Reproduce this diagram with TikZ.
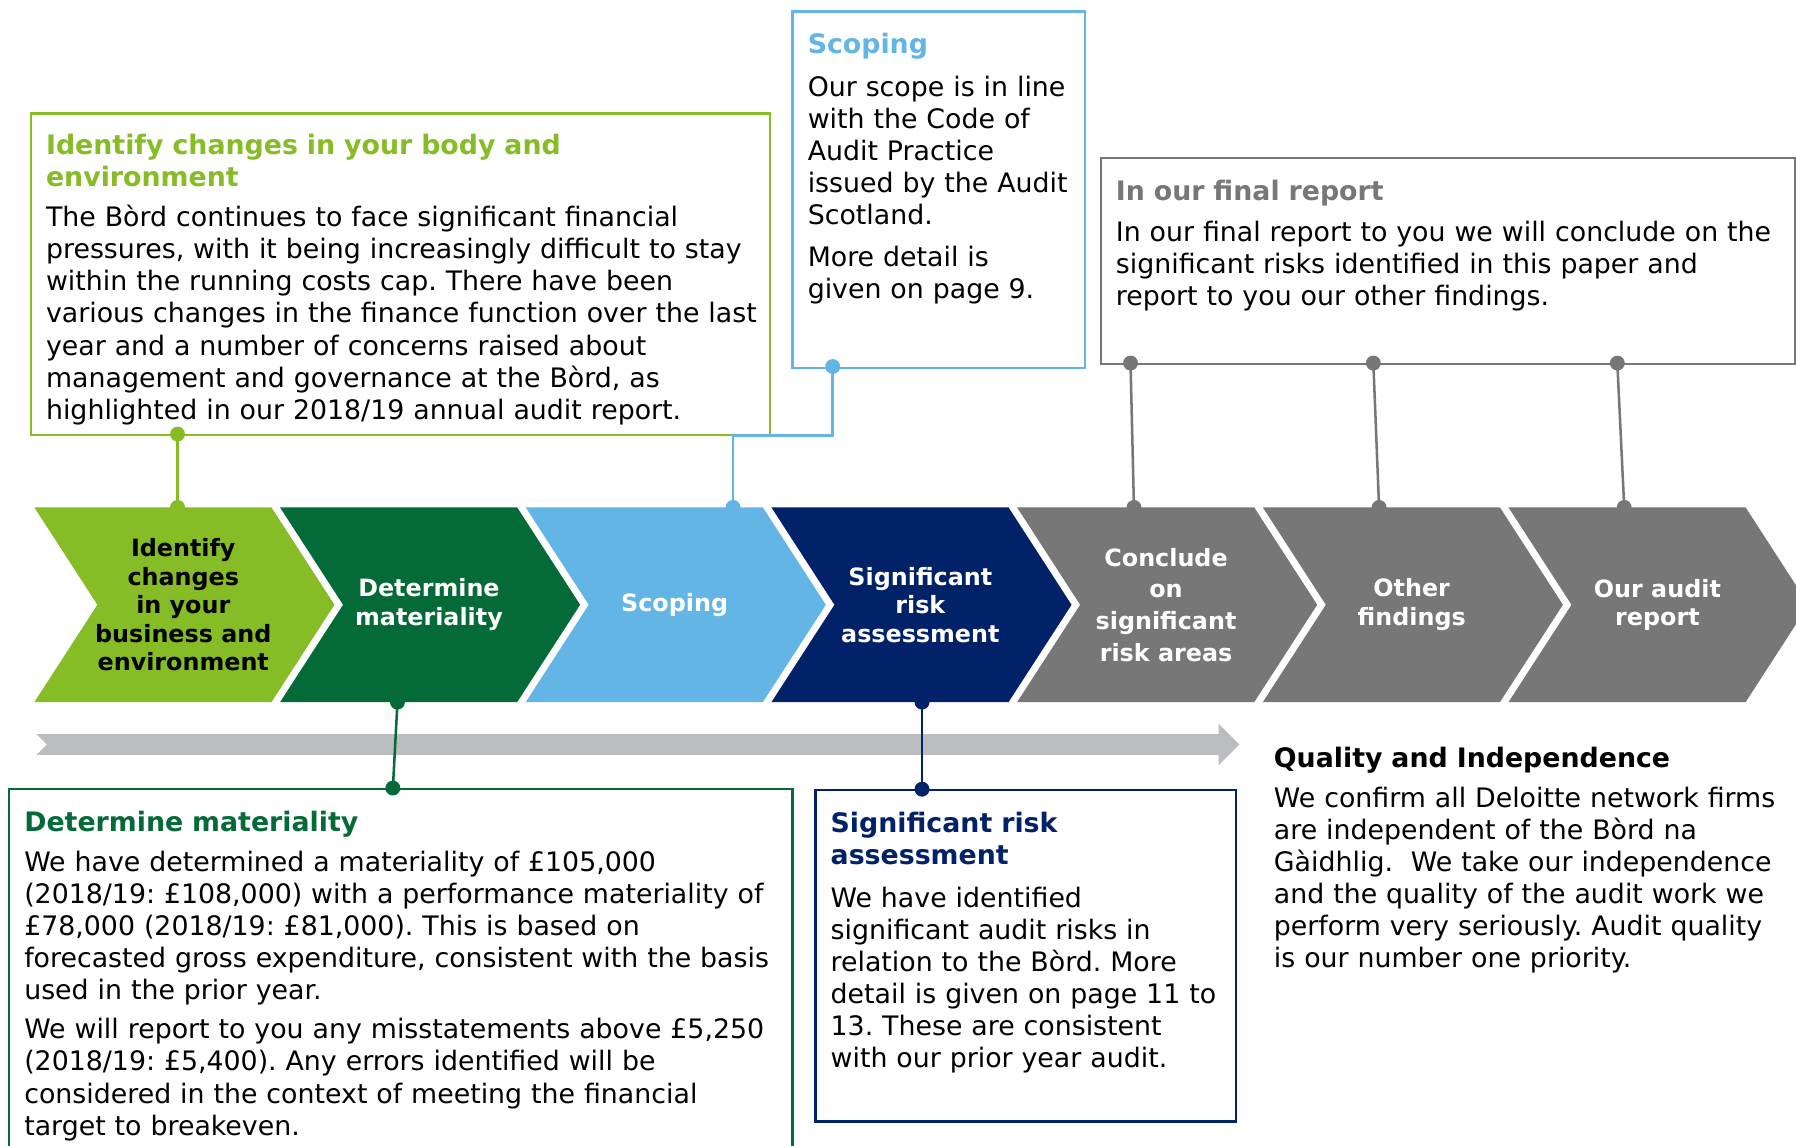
\documentclass[tikz,border=0pt]{standalone}
\usepackage{fontspec}
\setmainfont{DejaVu Sans}
\frenchspacing

\definecolor{dlime}{HTML}{86BC25}
\definecolor{dgreen}{HTML}{046A38}
\definecolor{dsky}{HTML}{62B5E5}
\definecolor{dnavy}{HTML}{012169}
\definecolor{dgrey}{HTML}{777777}
\definecolor{lgrey}{HTML}{BCBDC0}

\tikzset{
	panel/.style={draw=#1, line width=2pt, anchor=north west, inner sep=0pt},
	panel text/.style={anchor=north west, inner sep=0pt, align=left, text width=#1,
		font=\fontsize{23.4}{28}\selectfont},
	stage label/.style={align=center, inner sep=0pt,
		font=\fontsize{20.8}{25}\selectfont\bfseries},
	link/.style={draw=#1, line width=2.2pt},
}

\begin{document}
\begin{tikzpicture}[x=1pt, y=-1pt]
		\def\pinRadius{6.5pt} % Radius of the link dots
		\def\stageWidth{207} % Flat part of a stage
		\def\stagePoint{55} % Depth of the point
		
		\fill[white] (0,0) rectangle (1568,1000);
		\useasboundingbox (0,0) rectangle (1568,1000);
		
		% Draw the stages, left to right
		\foreach \i/\tone/\fg/\words in {
			1/dlime/black/{Identify\\changes\\in your\\business and\\environment},
			2/dgreen/white/{Determine\\materiality},
			3/dsky/white/{Scoping},
			4/dnavy/white/{Significant\\risk\\assessment},
			5/dgrey/white/{Conclude\\[2.7pt]on\\[2.7pt]significant\\[2.7pt]risk areas},
			6/dgrey/white/{Other\\findings},
			7/dgrey/white/{Our audit\\report}} {
			\pgfmathsetmacro{\xstart}{30 + (\i - 1) * 214.5}
			\fill[\tone] (\xstart,443) -- ++(\stageWidth,0) -- ++(\stagePoint,85)
				-- ++(-\stagePoint,85) -- ++(-\stageWidth,0) -- ++(\stagePoint,-85) -- cycle;
			\node[stage label, text=\fg] (stage\i) at (\xstart + 130,528) {\words};
		}
		
		% Timeline arrow under the stages
		\fill[lgrey] (32,641) -- (1064,641) -- (1064,632) -- (1082,650) -- (1064,668)
			-- (1064,659) -- (32,659) -- (41,650) -- cycle;
		
		% Boxes
		\node[panel=dlime, minimum width=645pt, minimum height=281pt] (idbox) at (26,98) {};
		\node[panel=dsky, minimum width=255pt, minimum height=311pt] (scopebox) at (691,9) {};
		\node[panel=dgrey, minimum width=606pt, minimum height=180pt] (finalbox) at (960,137) {};
		\node[panel=dgreen, minimum width=684pt, minimum height=330pt] (matbox) at (7,688) {};
		\node[panel=dnavy, minimum width=367pt, minimum height=289pt] (riskbox) at (711,689) {};
		
		% Box texts
		\node[panel text=640pt] (idtext) at ([shift={(14,19)}]idbox.north west) {%
			\textcolor{dlime}{\bfseries Identify changes in your body and\\environment}\\[7pt]
			The Bòrd continues to face significant financial\\
			pressures, with it being increasingly difficult to stay\\
			within the running costs cap. There have been\\
			various changes in the finance function over the last\\
			year and a number of concerns raised about\\
			management and governance at the Bòrd, as\\
			highlighted in our 2018/19 annual audit report.};
		\node[panel text=260pt] (scopetext) at ([shift={(14,20)}]scopebox.north west) {%
			\textcolor{dsky}{\bfseries Scoping}\\[9pt]
			Our scope is in line\\
			with the Code of\\
			Audit Practice\\
			issued by the Audit\\
			Scotland.\\[9pt]
			More detail is\\
			given on page 9.};
		\node[panel text=620pt] (finaltext) at ([shift={(14,20)}]finalbox.north west) {%
			\textcolor{dgrey}{\bfseries In our final report}\\[8pt]
			In our final report to you we will conclude on the\\
			significant risks identified in this paper and\\
			report to you our other findings.};
		\node[panel text=700pt] (mattext) at ([shift={(14,20)}]matbox.north west) {%
			\textcolor{dgreen}{\bfseries Determine materiality}\\[7pt]
			We have determined a materiality of £105,000\\
			(2018/19: £108,000) with a performance materiality of\\
			£78,000 (2018/19: £81,000). This is based on\\
			forecasted gross expenditure, consistent with the basis\\
			used in the prior year.\\[6pt]
			We will report to you any misstatements above £5,250\\
			(2018/19: £5,400). Any errors identified will be\\
			considered in the context of meeting the financial\\
			target to breakeven.};
		\node[panel text=380pt] (risktext) at ([shift={(14,20)}]riskbox.north west) {%
			\textcolor{dnavy}{\bfseries Significant risk\\assessment}\\[9pt]
			We have identified\\
			significant audit risks in\\
			relation to the Bòrd. More\\
			detail is given on page 11 to\\
			13. These are consistent\\
			with our prior year audit.};
		\node[panel text=480pt] (quality) at (1112,652) {%
			{\bfseries Quality and Independence}\\[7pt]
			We confirm all Deloitte network firms\\
			are independent of the Bòrd na\\
			Gàidhlig.~~We take our independence\\
			and the quality of the audit work we\\
			perform very seriously. Audit quality\\
			is our number one priority.};
		
		% Link ends
		\coordinate (idup) at (155,379);
		\coordinate (iddown) at (155,443);
		\coordinate (scopeup) at (727,320);
		\coordinate (scopebend) at (640,380);
		\coordinate (scopedown) at (640,443);
		\coordinate (matup) at (347,613);
		\coordinate (matdown) at (343,688);
		\coordinate (riskup) at (805,613);
		\coordinate (riskdown) at (805,689);
		
		% Links between boxes and stages
		\draw[link=dlime] (idup) -- (iddown);
		\draw[link=dsky] (scopeup) |- (scopebend) -- (scopedown);
		\draw[link=dgreen] (matup) -- (matdown);
		\draw[link=dnavy] (riskup) -- (riskdown);
		\fill[dlime] (idup) circle[radius=\pinRadius] (iddown) circle[radius=\pinRadius];
		\fill[dsky] (scopeup) circle[radius=\pinRadius] (scopedown) circle[radius=\pinRadius];
		\fill[dgreen] (matup) circle[radius=\pinRadius] (matdown) circle[radius=\pinRadius];
		\fill[dnavy] (riskup) circle[radius=\pinRadius] (riskdown) circle[radius=\pinRadius];
		
		% Final report links to the last three stages
		\foreach \n/\a/\b in {5/987/990, 6/1199/1204, 7/1412/1418} {
			\coordinate (rep\n) at (\a,317);
			\coordinate (end\n) at (\b,443);
			\draw[link=dgrey] (rep\n) -- (end\n);
			\fill[dgrey] (rep\n) circle[radius=\pinRadius] (end\n) circle[radius=\pinRadius];
		}
	\end{tikzpicture}
\end{document}
